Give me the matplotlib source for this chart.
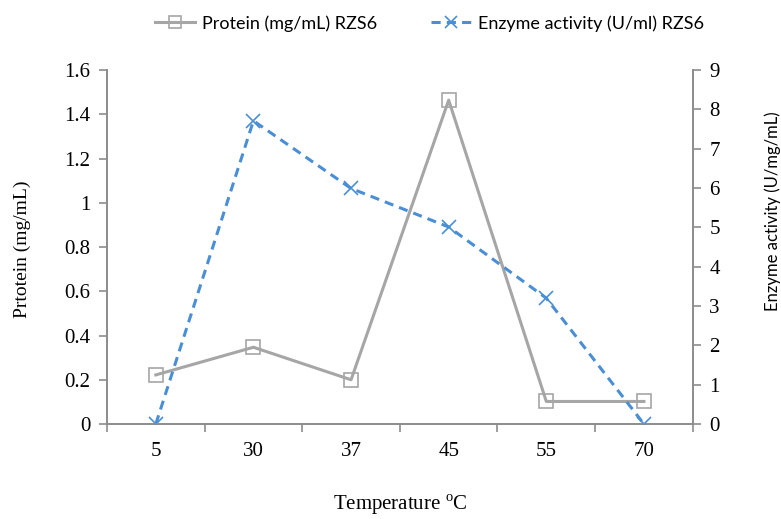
import numpy as np
import matplotlib
matplotlib.use("Agg")
import matplotlib.pyplot as plt

# Data
temperatures = ["5", "30", "37", "45", "55", "70"]
protein = [0.222, 0.347, 0.200, 1.464, 0.102, 0.102]        # mg/mL
enzyme_activity = [0.0, 7.71, 5.99, 5.01, 3.20, 0.0]         # U/mg/mL

plt.rcParams['font.family'] = ['Liberation Serif', 'DejaVu Serif']
plt.rcParams['mathtext.fontset'] = 'custom'
plt.rcParams['mathtext.rm'] = 'Liberation Serif'

grey = '#a6a6a6'
blue = '#4a8fd6'
spine_col = '#8c8c8c'

fig = plt.figure(figsize=(7.81, 5.19), dpi=100)
ax = fig.add_axes([0.137, 0.183, 0.750, 0.682])
ax2 = ax.twinx()

x = np.arange(len(temperatures))
l1, = ax.plot(x, protein, '-', color=grey, linewidth=2.2, marker='s', markersize=10,
              markerfacecolor='none', markeredgecolor=grey, markeredgewidth=1.2,
              label='Protein (mg/mL) RZS6')
l2, = ax2.plot(x, enzyme_activity, '--', color=blue, linewidth=2.2, marker='x', markersize=10,
               markeredgewidth=1.2, dashes=(3, 2), label='Enzyme activity (U/ml) RZS6')

ax.set_xlim(-0.5, len(temperatures) - 0.5)
ax.set_ylim(0, 1.6)
ax2.set_ylim(0, 9)
ax.set_yticks(np.arange(0, 1.61, 0.2))
ax.set_yticklabels(['0', '0.2', '0.4', '0.6', '0.8', '1', '1.2', '1.4', '1.6'])
ax2.set_yticks(np.arange(0, 10, 1))

ax.set_xticks(x)
ax.set_xticklabels(temperatures)
ax.set_xticks(np.arange(-0.5, len(temperatures), 1), minor=True)
ax.tick_params(axis='x', which='major', length=0, pad=13, labelsize=15)
ax.tick_params(axis='x', which='minor', length=6, color=spine_col, width=1.2)
ax.tick_params(axis='y', length=6, color=spine_col, width=1.2, labelsize=15, pad=6)
ax2.tick_params(axis='y', length=6, color=spine_col, width=1.2, labelsize=15, pad=6)

for a in (ax, ax2):
    a.spines['top'].set_visible(False)
    for s in ('left', 'right', 'bottom'):
        a.spines[s].set_color(spine_col)
        a.spines[s].set_linewidth(1.2)

fig.text(0.028, 0.52, 'Prtotein (mg/mL)', fontsize=14, rotation=90, ha='center', va='center')
fig.text(0.99, 0.593, 'Enzyme activity (U/mg/mL)', fontsize=12, rotation=90,
         ha='center', va='center', family=['Lato', 'DejaVu Sans'])
fig.text(0.512, 0.027, r'Temperature $^{\mathrm{o}}$C', fontsize=15, ha='center', va='center')

fig.legend(handles=[l1, l2], loc='center', bbox_to_anchor=(0.55, 0.955), ncol=2,
           frameon=False, prop={'family': ['Lato', 'DejaVu Sans'], 'size': 13},
           handlelength=2.2, handletextpad=0.4, columnspacing=3.0, markerscale=0.8)

fig.savefig('out.png', dpi=100)
